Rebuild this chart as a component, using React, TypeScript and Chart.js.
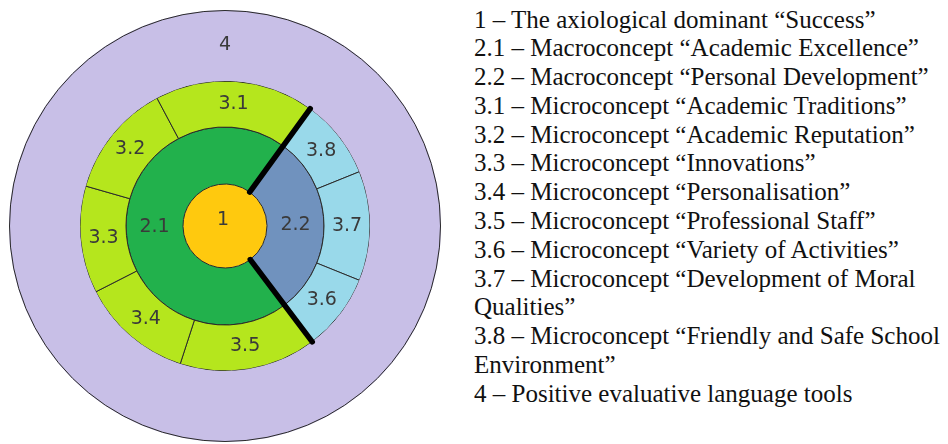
import React, { useEffect, useRef } from "react";
import { Chart, registerables } from "chart.js";

Chart.register(...registerables);

// ---- data (angular shares in degrees, clockwise from the upper boundary line) ----
const outerLabels = ["4"];
const outerValues = [360];

const microLabels = ["3.8", "3.7", "3.6", "3.5", "3.4", "3.3", "3.2", "3.1"];
const microValues = [32, 44, 31, 55, 45, 43, 46, 64];
const microParent = ["2.2", "2.2", "2.2", "2.1", "2.1", "2.1", "2.1", "2.1"];

const macroLabels = ["2.2", "2.1"];
const macroValues = [107, 253];

const coreLabels = ["1"];
const coreValues = [360];

const startAngleDeg = 36;

const legendEntries = [
  "1 – The axiological dominant “Success”",
  "2.1 – Macroconcept “Academic Excellence”",
  "2.2 – Macroconcept “Personal Development”",
  "3.1 – Microconcept “Academic Traditions”",
  "3.2 – Microconcept “Academic Reputation”",
  "3.3 – Microconcept “Innovations”",
  "3.4 – Microconcept “Personalisation”",
  "3.5 – Microconcept “Professional Staff”",
  "3.6 – Microconcept “Variety of Activities”",
  "3.7 – Microconcept “Development of Moral\nQualities”",
  "3.8 – Microconcept “Friendly and Safe School\nEnvironment”",
  "4 – Positive evaluative language tools",
];

// ---- styles ----
const COLORS = {
  outer: "#c8bfe7",
  lime: "#b5e61d",
  lightBlue: "#99d9ea",
  green: "#22b14c",
  steel: "#7092be",
  gold: "#ffc90e",
  border: "#2a2a2a",
  text: "#3a3a3a",
};

const ringPlugin = {
  id: "ringDecor",
  afterDatasetsDraw(chart: any) {
    const ctx = chart.ctx;
    const mOuter = chart.getDatasetMeta(0).data[0];
    const mMicro = chart.getDatasetMeta(1).data;
    const mMacro = chart.getDatasetMeta(2).data;
    const mCore = chart.getDatasetMeta(3).data[0];
    const cx = mOuter.x;
    const cy = mOuter.y;

    ctx.save();
    // outer circle border
    ctx.strokeStyle = COLORS.border;
    ctx.lineWidth = 1;
    ctx.beginPath();
    ctx.arc(cx, cy, mOuter.outerRadius - 0.5, 0, Math.PI * 2);
    ctx.stroke();

    // thick separators between the two macroconcepts
    const sep = mMacro[0];
    const r0 = mCore.outerRadius;
    const r1 = mMicro[0].outerRadius;
    ctx.strokeStyle = "#000";
    ctx.lineWidth = 5.5;
    ctx.lineCap = "round";
    [sep.startAngle, sep.endAngle].forEach((a: number) => {
      ctx.beginPath();
      ctx.moveTo(cx + r0 * Math.cos(a), cy + r0 * Math.sin(a));
      ctx.lineTo(cx + r1 * Math.cos(a), cy + r1 * Math.sin(a));
      ctx.stroke();
    });

    // labels
    ctx.fillStyle = COLORS.text;
    ctx.font = "19px 'DejaVu Sans'";
    ctx.textAlign = "center";
    ctx.textBaseline = "middle";

    const rOuterMid = (mOuter.innerRadius + mOuter.outerRadius) / 2;
    ctx.fillText(outerLabels[0], cx, cy - rOuterMid);

    mMicro.forEach((el: any, i: number) => {
      const p = el.getCenterPoint();
      ctx.fillText(microLabels[i], p.x, p.y);
    });
    mMacro.forEach((el: any, i: number) => {
      const p = el.getCenterPoint();
      ctx.fillText(macroLabels[i], p.x, p.y);
    });
    ctx.fillText(coreLabels[0], cx - 2, cy - 6);
    ctx.restore();
  },
};

export default function App() {
  const canvasRef = useRef<HTMLCanvasElement | null>(null);

  useEffect(() => {
    if (!canvasRef.current) return;
    const chart = new Chart(canvasRef.current, {
      type: "doughnut",
      data: {
        labels: microLabels,
        datasets: [
          {
            label: "outer",
            data: outerValues,
            backgroundColor: [COLORS.outer],
            borderWidth: 0,
            hoverBorderWidth: 0,
            weight: 71,
          } as any,
          {
            label: "micro",
            data: microValues,
            backgroundColor: microParent.map((p) => (p === "2.2" ? COLORS.lightBlue : COLORS.lime)),
            borderColor: COLORS.border,
            borderWidth: 1,
            hoverBorderWidth: 1,
            weight: 46,
          } as any,
          {
            label: "macro",
            data: macroValues,
            backgroundColor: [COLORS.steel, COLORS.green],
            borderColor: COLORS.border,
            borderWidth: 1,
            hoverBorderWidth: 1,
            weight: 57,
          } as any,
          {
            label: "core",
            data: coreValues,
            backgroundColor: [COLORS.gold],
            borderWidth: 0,
            hoverBorderWidth: 0,
            weight: 42,
          } as any,
        ],
      },
      options: {
        animation: false,
        responsive: true,
        maintainAspectRatio: false,
        cutout: 0,
        rotation: startAngleDeg,
        events: [],
        layout: { padding: 0 },
        plugins: {
          legend: { display: false },
          tooltip: { enabled: false },
        },
      },
      plugins: [ringPlugin],
    });
    return () => chart.destroy();
  }, []);

  return (
    <div
      style={{
        position: "fixed",
        left: 0,
        top: 0,
        width: 948,
        height: 444,
        background: "#fff",
        overflow: "hidden",
      }}
    >
      <div style={{ position: "absolute", left: 9, top: 10, width: 432, height: 432 }}>
        <canvas ref={canvasRef} />
      </div>
      <div
        style={{
          position: "absolute",
          left: 474,
          top: 5.5,
          fontFamily: "'Liberation Serif', 'Times New Roman', serif",
          fontSize: 25,
          lineHeight: "28.8px",
          color: "#111",
          whiteSpace: "pre",
        }}
      >
        {legendEntries.map((t, i) => (
          <div key={i}>{t}</div>
        ))}
      </div>
    </div>
  );
}
